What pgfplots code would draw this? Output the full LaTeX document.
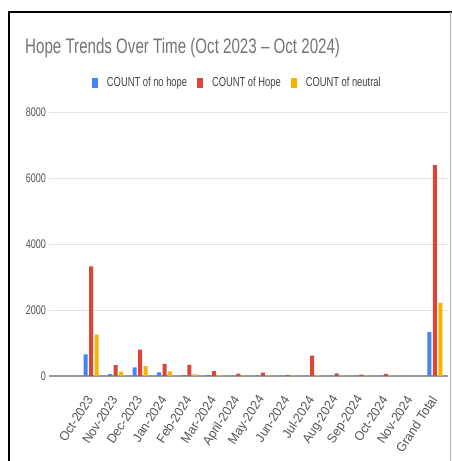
\documentclass[border=0pt]{standalone}
\usepackage{fontspec}
\setmainfont{Liberation Sans}[FakeStretch=0.72]
\newfontfamily\lblfont{Liberation Sans}[FakeStretch=0.95]
\usepackage{pgfplots}
\pgfplotsset{compat=1.18}
\definecolor{gblue}{HTML}{4285F4}
\definecolor{gred}{HTML}{DB4437}
\definecolor{gyellow}{HTML}{F4B400}
\definecolor{titlegray}{HTML}{757575}
\definecolor{labgray}{HTML}{555555}
\definecolor{gridgray}{HTML}{E3E3E3}
\definecolor{zerogray}{HTML}{9A9A9A}
\begin{document}
\begin{tikzpicture}[x=1pt,y=1pt]
\useasboundingbox (0,0) rectangle (452,461);
\fill[white] (0,0) rectangle (452,461);
\draw[black, line width=1.5pt] (9,0) -- (9,449) -- (452,449);
\draw[gray!60, line width=0.8pt] (450.6,0) -- (450.6,449);
\node[anchor=base west, inner sep=0pt, text=titlegray, font=\fontsize{21}{21}\selectfont] at (25,407) {Hope Trends Over Time (Oct 2023 – Oct 2024)};
\begin{axis}[
  at={(49pt,85pt)}, anchor=south west,
  scale only axis, width=399pt, height=263.5pt,
  ybar=1.5pt, bar width=4pt,
  xmin=-1.71, xmax=14.53,
  ymin=0, ymax=8000,
  axis line style={draw=none},
  tick style={draw=none},
  xtick={0,...,14},
  xticklabels={Oct-2023,Nov-2023,Dec-2023,Jan-2024,Feb-2024,Mar-2024,April-2024,May-2024,Jun-2024,Jul-2024,Aug-2024,Sep-2024,Oct-2024,Nov-2024,Grand Total},
  xticklabel style={xshift=-1pt, yshift=-17pt, rotate=57, anchor=east, inner sep=0pt, text=labgray, font=\lblfont\fontsize{13}{13}\selectfont},
  ytick={2000,4000,6000,8000},
  extra y ticks={0},
  extra y tick style={grid style={zerogray, line width=1.3pt}},
  ymajorgrids, grid style={gridgray, line width=0.9pt},
  yticklabel style={text=labgray, font=\fontsize{12.5}{12.5}\selectfont, inner sep=1pt, xshift=-2pt},
  scaled y ticks=false,
  /pgf/number format/1000 sep={},
  /pgf/number format/assume math mode=true,
  legend columns=3,
  legend style={draw=none, fill=none, at={(0.472,1.112)}, anchor=center,
    font=\fontsize{13}{13}\selectfont, text=labgray!80!black,
    /tikz/every odd column/.append style={column sep=7pt},
    /tikz/every even column/.append style={column sep=8pt}},
  legend image code/.code={\fill[#1] (0pt,-5pt) rectangle (6pt,5pt);},
]
\addplot[fill=gblue, draw=none] coordinates {(0,660) (1,60) (2,260) (3,110) (4,30) (5,30) (6,10) (7,20) (8,10) (9,15) (10,10) (11,10) (12,15) (13,0) (14,1330)};
\addplot[fill=gred, draw=none] coordinates {(0,3330) (1,330) (2,800) (3,370) (4,340) (5,145) (6,75) (7,105) (8,30) (9,620) (10,80) (11,40) (12,65) (13,0) (14,6400)};
\addplot[fill=gyellow, draw=none] coordinates {(0,1260) (1,130) (2,300) (3,140) (4,50) (5,25) (6,10) (7,20) (8,10) (9,30) (10,15) (11,10) (12,20) (13,0) (14,2220)};
\legend{COUNT of no hope, COUNT of Hope, COUNT of neutral}
\end{axis}
\end{tikzpicture}
\end{document}
